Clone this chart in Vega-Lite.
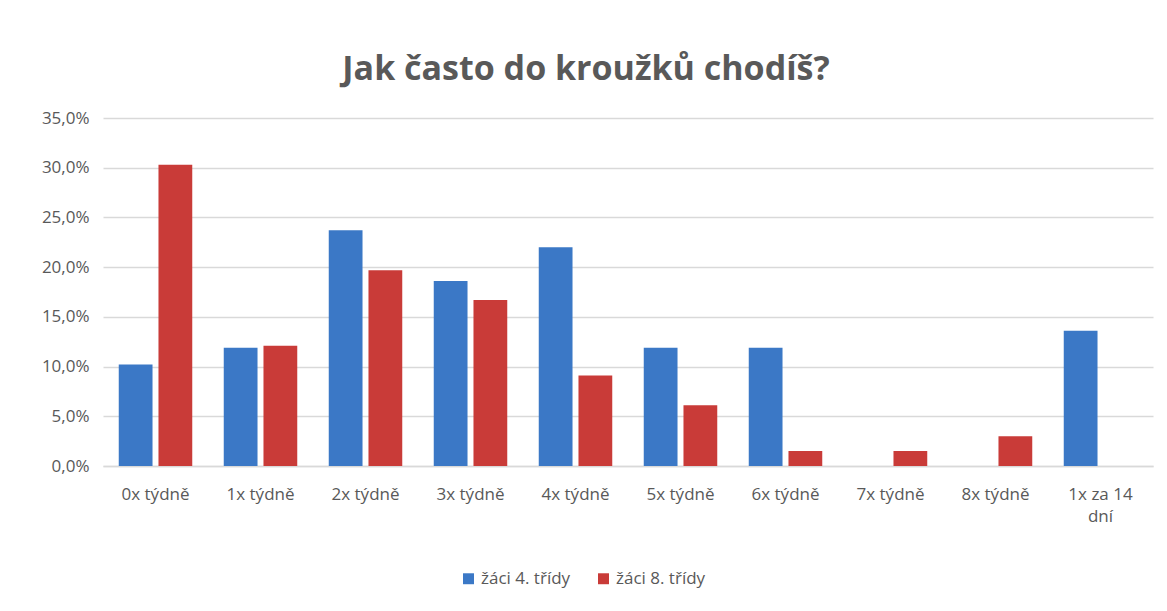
{
  "$schema": "https://vega.github.io/schema/vega-lite/v6.json",
  "autosize": "none",
  "width": 1050,
  "height": 348,
  "padding": {"left": 103, "top": 118, "right": 14, "bottom": 145},
  "background": "white",
  "title": {
    "text": "Jak často do kroužků chodíš?",
    "fontSize": 34,
    "font": "Open Sans, sans-serif",
    "fontWeight": "bold",
    "color": "#595959",
    "anchor": "middle",
    "frame": "group",
    "dx": -42,
    "offset": 22
  },
  "data": {
    "values": [
      {"kat": "0x týdně", "skupina": "žáci 4. třídy", "hodnota": 10.2},
      {"kat": "0x týdně", "skupina": "žáci 8. třídy", "hodnota": 30.3},
      {"kat": "1x týdně", "skupina": "žáci 4. třídy", "hodnota": 11.9},
      {"kat": "1x týdně", "skupina": "žáci 8. třídy", "hodnota": 12.1},
      {"kat": "2x týdně", "skupina": "žáci 4. třídy", "hodnota": 23.7},
      {"kat": "2x týdně", "skupina": "žáci 8. třídy", "hodnota": 19.7},
      {"kat": "3x týdně", "skupina": "žáci 4. třídy", "hodnota": 18.6},
      {"kat": "3x týdně", "skupina": "žáci 8. třídy", "hodnota": 16.7},
      {"kat": "4x týdně", "skupina": "žáci 4. třídy", "hodnota": 22.0},
      {"kat": "4x týdně", "skupina": "žáci 8. třídy", "hodnota": 9.1},
      {"kat": "5x týdně", "skupina": "žáci 4. třídy", "hodnota": 11.9},
      {"kat": "5x týdně", "skupina": "žáci 8. třídy", "hodnota": 6.1},
      {"kat": "6x týdně", "skupina": "žáci 4. třídy", "hodnota": 11.9},
      {"kat": "6x týdně", "skupina": "žáci 8. třídy", "hodnota": 1.5},
      {"kat": "7x týdně", "skupina": "žáci 4. třídy", "hodnota": 0},
      {"kat": "7x týdně", "skupina": "žáci 8. třídy", "hodnota": 1.5},
      {"kat": "8x týdně", "skupina": "žáci 4. třídy", "hodnota": 0},
      {"kat": "8x týdně", "skupina": "žáci 8. třídy", "hodnota": 3.0},
      {"kat": "1x za 14 dní", "skupina": "žáci 4. třídy", "hodnota": 13.6},
      {"kat": "1x za 14 dní", "skupina": "žáci 8. třídy", "hodnota": 0}
    ]
  },
  "mark": {"type": "bar"},
  "encoding": {
    "x": {
      "field": "kat",
      "type": "nominal",
      "sort": null,
      "title": null,
      "scale": {"paddingInner": 0.3, "paddingOuter": 0.15},
      "axis": {
        "labelAngle": 0,
        "ticks": false,
        "domainColor": "#d9d9d9",
        "domainWidth": 1.5,
        "labelPadding": 20,
        "labelFontSize": 17,
        "labelColor": "#595959",
        "labelFont": "Open Sans, sans-serif",
        "labelLineHeight": 22,
        "labelExpr": "datum.label == '1x za 14 dní' ? ['1x za 14', 'dní'] : datum.label"
      }
    },
    "xOffset": {"field": "skupina", "type": "nominal", "scale": {"paddingInner": 0.15}},
    "y": {
      "field": "hodnota",
      "type": "quantitative",
      "title": null,
      "scale": {"domain": [0, 35], "nice": false},
      "axis": {
        "values": [0, 5, 10, 15, 20, 25, 30, 35],
        "domain": false,
        "ticks": false,
        "gridColor": "#d9d9d9",
        "gridWidth": 1.5,
        "labelPadding": 14,
        "labelFontSize": 17,
        "labelColor": "#595959",
        "labelFont": "Open Sans, sans-serif",
        "labelExpr": "replace(format(datum.value, '.1f'), '.', ',') + '%'"
      }
    },
    "color": {
      "field": "skupina",
      "type": "nominal",
      "title": null,
      "scale": {"domain": ["žáci 4. třídy", "žáci 8. třídy"], "range": ["#3b78c6", "#c93b38"]},
      "legend": {
        "orient": "none",
        "direction": "horizontal",
        "legendX": 357,
        "legendY": 452,
        "symbolType": "square",
        "symbolSize": 120,
        "symbolStrokeWidth": 0,
        "labelFontSize": 17,
        "labelColor": "#595959",
        "labelFont": "Open Sans, sans-serif",
        "labelOffset": 4,
        "columnPadding": 24
      }
    }
  },
  "config": {"view": {"stroke": null}}
}
